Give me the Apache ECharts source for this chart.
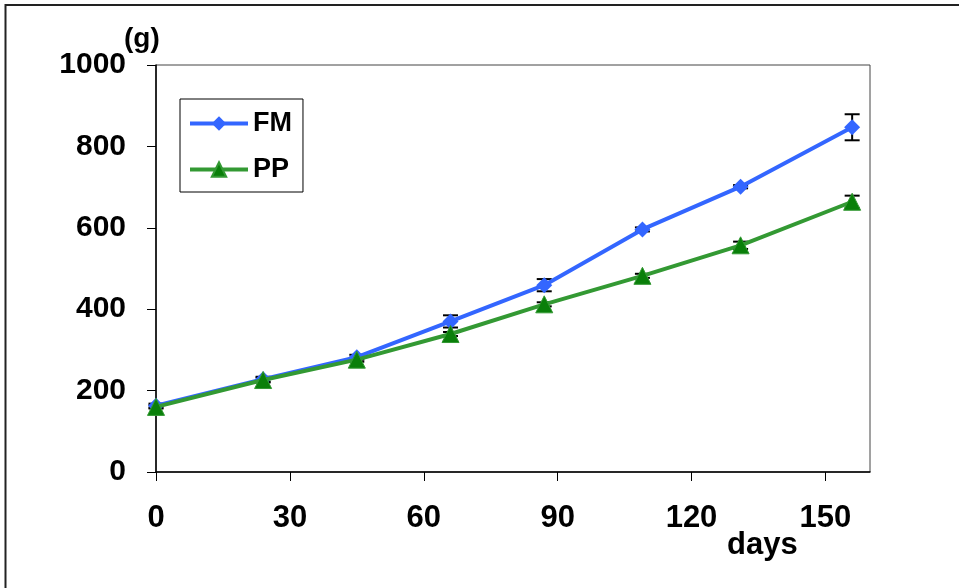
<!DOCTYPE html>
<html>
<head>
<meta charset="utf-8">
<title>FM / PP</title>
<script src="https://cdn.jsdelivr.net/npm/echarts@6/dist/echarts.min.js"></script>
<style>
	html,body{margin:0;padding:0;background:#fff;}
	#chart{width:959px;height:588px;}
</style>
</head>
<body>
<div id="chart"></div>
<script>
var days = [0, 24, 45, 66, 87, 109, 131, 156];
var fmValues = [163, 228, 282, 370, 459, 596, 701, 847];
var fmErr = [5, 6, 6, 15, 15, 5, 4, 32];
var ppValues = [160, 226, 276, 339, 412, 482, 557, 664];
var ppErr = [4, 6, 5, 5, 5, 5, 9, 15];
var xTicks = [0, 30, 60, 90, 120, 150];

var fontName = "'Liberation Sans', Arial, sans-serif";

function pairs(vals){
	var out = [];
	for(var i=0;i<days.length;i++){
		out.push([days[i], vals[i]]);
	}
	return out;
}
function errData(vals, errs){
	var out = [];
	for(var i=0;i<days.length;i++){
		out.push([days[i], vals[i], errs[i]]);
	}
	return out;
}

// error bars: vertical line plus two caps
function renderErr(params, api){
	var x = api.value(0), y = api.value(1), e = api.value(2);
	var hi = api.coord([x, y + e]);
	var lo = api.coord([x, y - e]);
	var w = 7.5;
	var style = {stroke: "#000", lineWidth: 2};
	return {
		type: "group",
		children: [
			{type: "line", shape: {x1: hi[0], y1: hi[1], x2: lo[0], y2: lo[1]}, style: style},
			{type: "line", shape: {x1: hi[0]-w, y1: hi[1], x2: hi[0]+w, y2: hi[1]}, style: style},
			{type: "line", shape: {x1: lo[0]-w, y1: lo[1], x2: lo[0]+w, y2: lo[1]}, style: style}
		]
	};
}

var myChart = echarts.init(document.getElementById("chart"));
var option = {
	animation: false,
	backgroundColor: "#fff",
	textStyle: {fontFamily: fontName},
	grid: {
		left: 156,
		top: 65,
		right: 89,
		bottom: 116,
		show: true,
		borderColor: "#444",
		borderWidth: 1,
		backgroundColor: "transparent"
	},
	legend: {
		orient: "vertical",
		left: 180,
		top: 99,
		padding: [11, 11, 9, 8],
		itemWidth: 58,
		itemHeight: 18,
		itemGap: 19,
		borderColor: "#000",
		borderWidth: 1,
		lineStyle: {width: 4},
		textStyle: {fontSize: 27, fontWeight: "bold", color: "#000", fontFamily: fontName},
		data: ["FM", "PP"]
	},
	xAxis: {
		type: "value",
		min: 0,
		max: 160,
		interval: 30,
		splitLine: {show: false},
		axisLine: {lineStyle: {color: "#000", width: 1.5}},
		axisTick: {length: 9, customValues: xTicks, lineStyle: {color: "#000"}},
		axisLabel: {
			customValues: xTicks,
			margin: 31,
			fontSize: 31,
			fontWeight: "bold",
			color: "#000",
			fontFamily: fontName
		}
	},
	yAxis: {
		type: "value",
		min: 0,
		max: 1000,
		interval: 200,
		splitLine: {show: false},
		axisLine: {show: true, lineStyle: {color: "#000", width: 1.5}},
		axisTick: {show: true, length: 9, lineStyle: {color: "#000"}},
		axisLabel: {
			margin: 30,
			fontSize: 30,
			fontWeight: "bold",
			color: "#000",
			fontFamily: fontName,
			formatter: function(v){ return String(v); }
		}
	},
	graphic: [
		{type: "rect", shape: {x: 5.5, y: 5, width: 1000, height: 1000}, style: {fill: "none", stroke: "#222", lineWidth: 2}, silent: true},
		{type: "text", left: 124, top: 25, style: {text: "(g)", font: "bold 28px " + fontName, fill: "#000"}},
		{type: "text", left: 727, top: 530, style: {text: "days", font: "bold 31px " + fontName, fill: "#000"}}
	],
	series: [
		{
			name: "FM err",
			type: "custom",
			renderItem: renderErr,
			data: errData(fmValues, fmErr),
			z: 1,
			silent: true
		},
		{
			name: "PP err",
			type: "custom",
			renderItem: renderErr,
			data: errData(ppValues, ppErr),
			z: 1,
			silent: true
		},
		{
			name: "FM",
			type: "line",
			data: pairs(fmValues),
			symbol: "diamond",
			symbolSize: 16,
			showAllSymbol: true,
			lineStyle: {color: "#3366ff", width: 4},
			itemStyle: {color: "#3366ff"},
			z: 2
		},
		{
			name: "PP",
			type: "line",
			data: pairs(ppValues),
			symbol: "triangle",
			symbolSize: 17,
			lineStyle: {color: "#339933", width: 4},
			itemStyle: {color: "#0a7f0a", borderColor: "#339933", borderWidth: 1},
			z: 3
		}
	]
};
myChart.setOption(option);
</script>
</body>
</html>
